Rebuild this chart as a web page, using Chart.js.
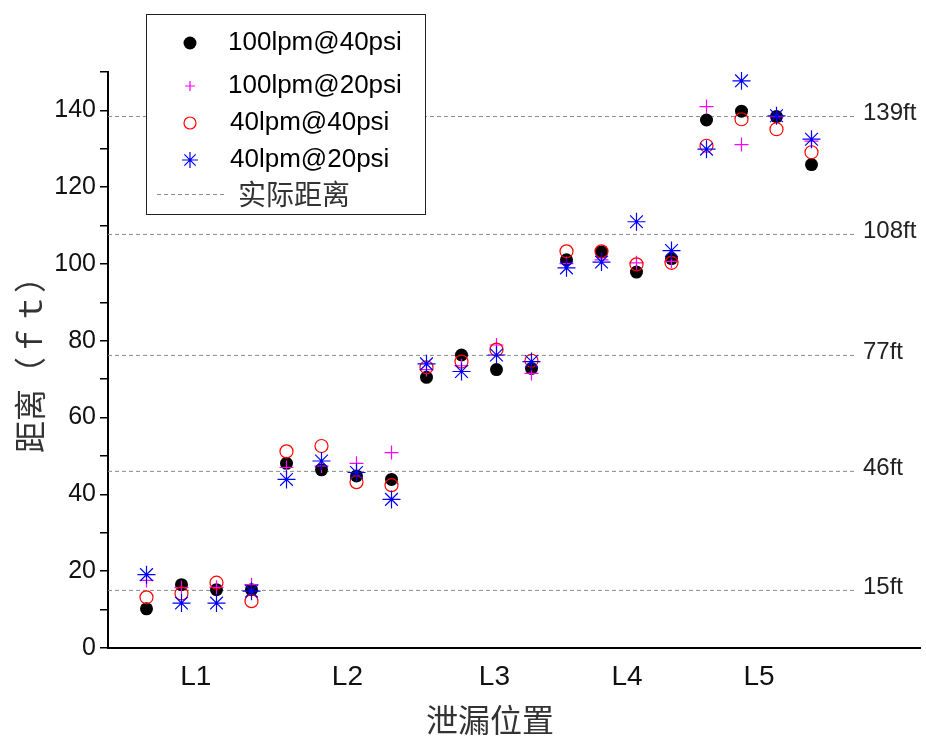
<!DOCTYPE html>
<html>
<head>
<meta charset="utf-8">
<script src="https://cdn.jsdelivr.net/npm/chart.js@4"></script>
<style>
  body { margin: 0; background: #fff; }
  canvas { display: block; }
</style>
</head>
<body>
<canvas id="chart" width="926" height="738"></canvas>
<script>
// measurement index along x (4 tests per leak position)
const positions = [1, 2, 3, 4, 5, 6, 7, 8, 9, 10, 11, 12, 13, 14, 15, 16, 17, 18, 19, 20];

const seriesNames = ["100lpm@40psi", "100lpm@20psi", "40lpm@40psi", "40lpm@20psi"];
const s100at40 = [10.2, 16.5, 15.2, 15.2, 48.1, 46.4, 44.8, 43.9, 70.5, 76.3, 72.5, 72.8, 101.1, 103.1, 97.9, 101.4, 137.5, 139.8, 138.4, 125.9];
const s100at20 = [17.6, 15.7, 15.8, 16.5, 47.0, 47.4, 48.1, 50.9, 72.5, 73.5, 78.9, 71.5, 100.1, 101.1, 100.3, 100.7, 141.0, 131.1, 138.4, 132.0];
const s40at40 = [13.2, 14.2, 17.0, 12.2, 51.2, 52.6, 43.2, 42.4, 73.1, 74.6, 77.7, 74.8, 103.3, 103.3, 99.9, 100.3, 130.8, 137.7, 135.1, 129.1];
const s40at20 = [19.1, 11.7, 11.7, 14.8, 43.9, 48.7, 45.7, 38.7, 74.0, 72.0, 76.3, 74.6, 99.0, 100.5, 111.0, 103.5, 129.9, 147.7, 138.6, 132.5];

// actual leak distances (dashed reference lines)
const refValues = [15, 46, 76.2, 107.7, 138.4];
const refLabels = ["15ft", "46ft", "77ft", "108ft", "139ft"];
const refName = "实际距离";

// leak position labels and where they sit on the x scale
const groupLabels = ["L1", "L2", "L3", "L4", "L5"];
const groupLabelAt = [2.41, 6.74, 10.94, 14.73, 18.5];

const xMin = -0.1, xMax = 23.1;
const refLineEnd = 21.3;
const yTicksMax = 150;

const styles = [
  { pointStyle: "circle", radius: 6.5, fill: "#000000", stroke: "#000000", width: 0, order: 4 },
  { pointStyle: "cross", radius: 7, fill: "rgba(0,0,0,0)", stroke: "#ff00ff", width: 1.2, order: 3 },
  { pointStyle: "circle", radius: 6.5, fill: "rgba(0,0,0,0)", stroke: "#ff0000", width: 1.2, order: 2 },
  { pointStyle: "star", radius: 9, fill: "rgba(0,0,0,0)", stroke: "#0000ff", width: 1.2, order: 1 }
];

const allSeries = [s100at40, s100at20, s40at40, s40at20];

const datasets = allSeries.map((vals, i) => ({
  type: "scatter",
  label: seriesNames[i],
  data: vals.map((v, j) => ({ x: positions[j], y: v })),
  pointStyle: styles[i].pointStyle,
  pointRadius: styles[i].radius,
  backgroundColor: styles[i].fill,
  borderColor: styles[i].stroke,
  borderWidth: styles[i].width,
  order: styles[i].order
}));

refValues.forEach(v => {
  datasets.push({
    type: "line",
    label: refName,
    data: [{ x: xMin, y: v }, { x: refLineEnd, y: v }],
    borderColor: "#8c8c8c",
    borderWidth: 1,
    borderDash: [4, 3],
    pointRadius: 0,
    order: 5
  });
});

// legend marker drawing (small versions of the point styles)
function drawMarker(ctx, style, x, y, r) {
  ctx.save();
  ctx.strokeStyle = style.stroke;
  ctx.fillStyle = style.fill;
  ctx.lineWidth = style.width || 1;
  ctx.beginPath();
  if (style.pointStyle === "circle") {
    ctx.arc(x, y, r, 0, Math.PI * 2);
    ctx.fill();
    if (style.width > 0) ctx.stroke();
  } else if (style.pointStyle === "cross") {
    ctx.moveTo(x - r, y); ctx.lineTo(x + r, y);
    ctx.moveTo(x, y - r); ctx.lineTo(x, y + r);
    ctx.stroke();
  } else {
    const d = r * Math.SQRT1_2;
    ctx.moveTo(x - r, y); ctx.lineTo(x + r, y);
    ctx.moveTo(x, y - r); ctx.lineTo(x, y + r);
    ctx.moveTo(x - d, y - d); ctx.lineTo(x + d, y + d);
    ctx.moveTo(x - d, y + d); ctx.lineTo(x + d, y - d);
    ctx.stroke();
  }
  ctx.restore();
}

const annotations = {
  id: "annotations",
  afterDraw(chart) {
    const ctx = chart.ctx;
    const xs = chart.scales.x, ys = chart.scales.y;
    ctx.save();

    // group labels under the axis
    ctx.font = "28px 'Liberation Sans Narrow', 'Liberation Sans', Arial";
    ctx.fillStyle = "#111";
    ctx.textAlign = "center";
    ctx.textBaseline = "middle";
    groupLabels.forEach((t, i) => {
      ctx.fillText(t, xs.getPixelForValue(groupLabelAt[i]), 677);
    });

    // reference line labels on the right
    ctx.font = "24px 'Liberation Sans', Arial";
    ctx.fillStyle = "#222";
    ctx.textAlign = "left";
    refValues.forEach((v, i) => {
      ctx.fillText(refLabels[i], 863, ys.getPixelForValue(v) - 3);
    });

    // axis titles
    ctx.font = "32px 'Noto Sans CJK SC'";
    ctx.fillStyle = "#333";
    ctx.textAlign = "center";
    ctx.fillText("泄漏位置", 490, 720);
    ctx.save();
    ctx.translate(30, 357);
    ctx.rotate(-Math.PI / 2);
    ctx.fillText("距离（ｆｔ）", 0, 0);
    ctx.restore();

    // legend box
    ctx.fillStyle = "#fff";
    ctx.fillRect(146, 14, 279, 200);
    ctx.strokeStyle = "#222";
    ctx.lineWidth = 1;
    ctx.strokeRect(146.5, 14.5, 279, 200);

    const rows = [43, 86, 123, 160];
    const markR = [6.5, 5, 6, 8];
    const textX = [228, 228, 230, 230];
    ctx.font = "26px 'Liberation Sans', Arial";
    ctx.fillStyle = "#000";
    ctx.textAlign = "left";
    seriesNames.forEach((name, i) => {
      drawMarker(ctx, styles[i], 190, rows[i], markR[i]);
      ctx.fillStyle = "#000";
      ctx.fillText(name, textX[i], rows[i]);
    });
    ctx.strokeStyle = "#8c8c8c";
    ctx.setLineDash([4, 3]);
    ctx.beginPath();
    ctx.moveTo(157, 194.5);
    ctx.lineTo(227, 194.5);
    ctx.stroke();
    ctx.setLineDash([]);
    ctx.font = "28px 'Noto Sans CJK SC'";
    ctx.fillStyle = "#333";
    ctx.fillText(refName, 238, 194);

    ctx.restore();
  }
};

new Chart(document.getElementById("chart"), {
  type: "scatter",
  data: { datasets: datasets },
  options: {
    responsive: false,
    animation: false,
    layout: { autoPadding: false, padding: { left: 0, top: 72, right: 6, bottom: 0 } },
    plugins: {
      legend: { display: false },
      tooltip: { enabled: false }
    },
    scales: {
      x: {
        type: "linear",
        min: xMin,
        max: xMax,
        ticks: { display: false },
        grid: { display: false },
        border: { display: true, color: "#000", width: 2 },
        afterFit: s => { s.height = 90; }
      },
      y: {
        min: 0,
        max: yTicksMax,
        ticks: {
          stepSize: 10,
          autoSkip: false,
          padding: 4,
          color: "#111",
          font: { family: "'Liberation Sans', Arial", size: 25 },
          callback: v => (v % 20 === 0 ? v : "")
        },
        grid: { drawOnChartArea: false, tickLength: 8, color: "#000", lineWidth: 1.5 },
        border: { display: true, color: "#000", width: 2 },
        afterFit: s => { s.width = 108; }
      }
    }
  },
  plugins: [annotations]
});
</script>
</body>
</html>
